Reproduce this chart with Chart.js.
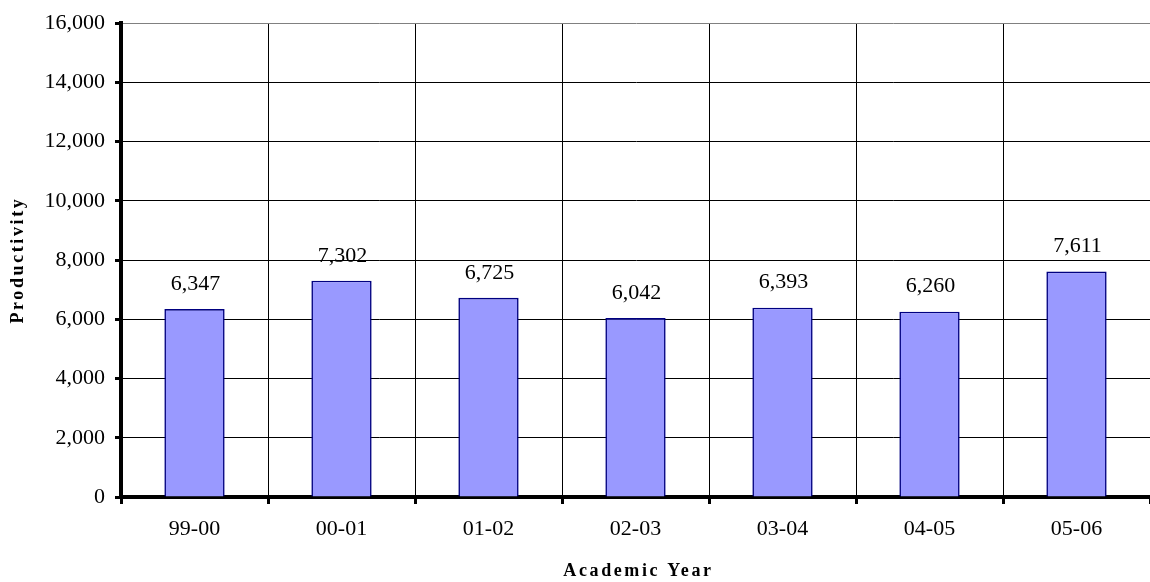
<!DOCTYPE html>
<html><head><meta charset="utf-8">
<script src="https://cdn.jsdelivr.net/npm/chart.js@4/dist/chart.umd.min.js"></script>
<style>html,body{margin:0;padding:0;background:#fff}#wrap{width:1150px;height:582px}</style>
</head><body><div id="wrap"><canvas id="c" width="1150" height="582"></canvas></div>
<script>
const categories = ['99-00', '00-01', '01-02', '02-03', '03-04', '04-05', '05-06'];
const productivity = [6347, 7302, 6725, 6042, 6393, 6260, 7611];
const yMin = 0, yMax = 16000, yStep = 2000;
const xTitle = 'Academic Year';
const yTitle = 'Productivity';

const fmt = v => Number(v).toLocaleString('en-US');
const FONT = 'Liberation Serif, Times New Roman, serif';

const labelPlugin = {
  id: 'barLabels',
  afterDatasetsDraw(chart) {
    const ctx = chart.ctx;
    const meta = chart.getDatasetMeta(0);
    ctx.save();
    ctx.font = '22px ' + FONT;
    ctx.fillStyle = '#000';
    ctx.textAlign = 'center';
    ctx.textBaseline = 'middle';
    meta.data.forEach((bar, i) => {
      ctx.fillText(fmt(chart.data.datasets[0].data[i]), bar.x + 1, bar.y - 25);
    });
    ctx.restore();
  }
};

const titlePlugin = {
  id: 'axisTitles',
  afterDraw(chart) {
    const ctx = chart.ctx;
    const a = chart.chartArea;
    ctx.save();
    ctx.font = 'bold 18px ' + FONT;
    ctx.fillStyle = '#000';
    ctx.textAlign = 'center';
    ctx.textBaseline = 'middle';
    try { ctx.letterSpacing = '2.6px'; } catch (e) {}
    ctx.fillText(xTitle, (a.left + a.right) / 2 + 3, 571);
    ctx.translate(18, (a.top + a.bottom) / 2);
    ctx.rotate(-Math.PI / 2);
    ctx.fillText(yTitle, 0, 0);
    ctx.restore();
  }
};

new Chart(document.getElementById('c'), {
  type: 'bar',
  data: {
    labels: categories,
    datasets: [{
      data: productivity,
      backgroundColor: '#9999FF',
      borderColor: '#000080',
      borderWidth: 1.6,
      borderSkipped: 'bottom',
      categoryPercentage: 1,
      barPercentage: 0.41
    }]
  },
  options: {
    responsive: false,
    animation: false,
    devicePixelRatio: 1,
    layout: { padding: { top: 19, right: 0, left: 0, bottom: 0 } },
    plugins: { legend: { display: false }, tooltip: { enabled: false } },
    scales: {
      x: {
        offset: true,
        grid: {
          offset: true,
          color: '#000',
          lineWidth: 1,
          drawTicks: true,
          tickLength: 7,
          tickWidth: 3,
          tickColor: '#000'
        },
        border: { display: true, color: '#000', width: 4 },
        ticks: { font: { family: FONT, size: 22 }, color: '#000', padding: 12 },
        afterFit(s) { s.height = 85; }
      },
      y: {
        min: yMin, max: yMax,
        ticks: {
          stepSize: yStep,
          font: { family: FONT, size: 22 },
          color: '#000',
          padding: 10,
          callback: v => fmt(v)
        },
        grid: {
          color: c => (c.tick && c.tick.value === yMax) ? '#808080' : '#000',
          lineWidth: 1,
          tickLength: 6,
          tickWidth: 3,
          tickColor: '#000'
        },
        border: { display: true, color: '#000', width: 4 },
        afterFit(s) { s.width = 121; }
      }
    }
  },
  plugins: [labelPlugin, titlePlugin]
});
</script>
</body></html>
